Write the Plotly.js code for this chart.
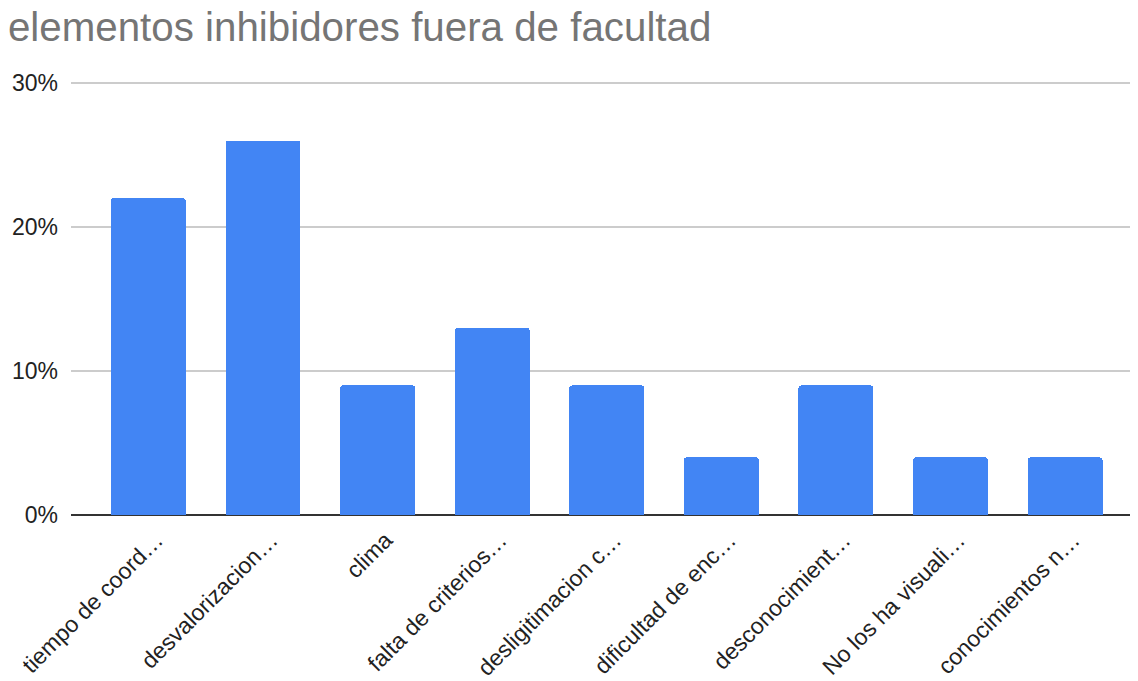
<!DOCTYPE html>
<html>
<head>
<meta charset="utf-8">
<script src="https://cdn.plot.ly/plotly-3.0.1.min.js"></script>
<style>html,body{margin:0;padding:0;background:#fff;}#chart{width:1138px;height:681px;}</style>
</head>
<body>
<div id="chart"></div>
<script>
const categories = ["tiempo de coord…", "desvalorizacion…", "clima", "falta de criterios…", "desligitimacion c…", "dificultad de enc…", "desconocimient…", "No los ha visuali…", "conocimientos n…"];
const values = [0.22, 0.26, 0.09, 0.13, 0.09, 0.04, 0.09, 0.04, 0.04];
const yTickVals = [0, 0.1, 0.2, 0.3];
const yTickText = ["0%", "10%", "20%", "30%"];
const titleText = "elementos inhibidores fuera de facultad";

const trace = {
  type: 'bar',
  x: categories.map((c, i) => i),
  y: values,
  marker: {color: '#4285f4', cornerradius: 3},
  width: 0.654,
  hoverinfo: 'none'
};
const layout = {
  width: 1138, height: 681,
  margin: {l: 71, r: 8, t: 82, b: 166},
  paper_bgcolor: '#fff', plot_bgcolor: '#fff',
  font: {family: 'Liberation Sans, Arial, sans-serif', color: '#222'},
  title: {text: titleText, x: 0.007, xanchor: 'left', xref: 'container', y: 0.981, yanchor: 'top', yref: 'container',
          font: {size: 40.3, color: '#757575', family: 'Liberation Sans, Arial, sans-serif'}},
  showlegend: false,
  bargap: 0,
  xaxis: {
    range: [-0.676, 8.567],
    tickvals: categories.map((c, i) => i),
    ticktext: categories,
    tickangle: -45,
    tickfont: {size: 23, color: '#222'},
    showgrid: false, zeroline: false, showline: false, ticks: '', fixedrange: true,
    ticklabelstandoff: 6, ticklabelshift: 8
  },
  yaxis: {
    range: [0, 0.3007],
    tickvals: yTickVals,
    ticktext: yTickText,
    tickfont: {size: 23, color: '#222'},
    showgrid: true, gridcolor: '#cccccc', gridwidth: 1.5,
    zeroline: true, zerolinecolor: '#333333', zerolinewidth: 2,
    ticks: '', ticklabelstandoff: 12, fixedrange: true
  }
};
Plotly.newPlot('chart', [trace], layout, {displayModeBar: false, staticPlot: true});
</script>
</body>
</html>
